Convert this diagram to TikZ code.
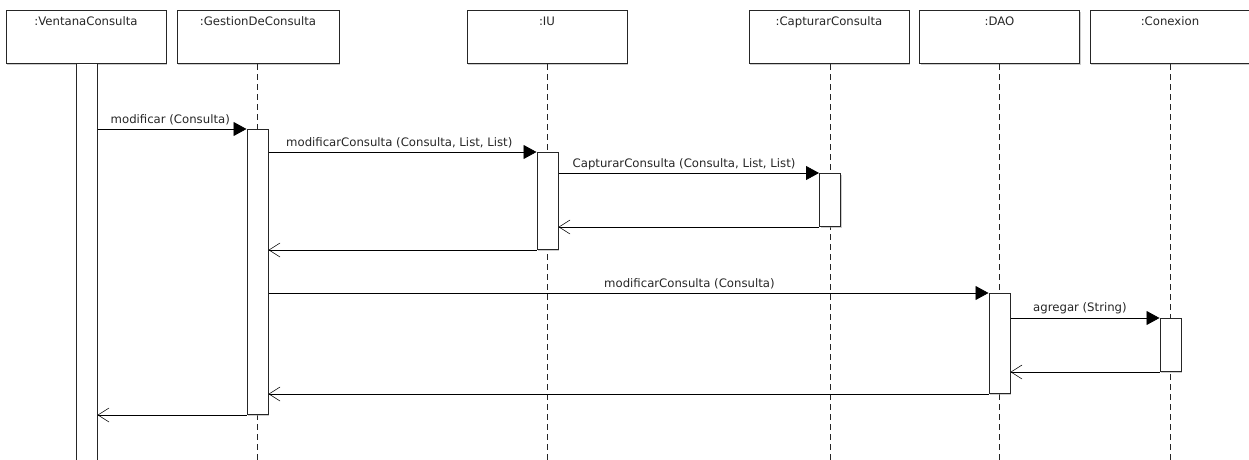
\documentclass[tikz,border=0pt]{standalone}
\usepackage{fontspec}
\setmainfont{DejaVu Sans}
\usetikzlibrary{arrows.meta,shadows}
\begin{document}
\begin{tikzpicture}[x=1pt,y=-1pt,
  shade/.style={drop shadow={shadow xshift=1.3pt,shadow yshift=-1.3pt,fill=black!40,opacity=0.5}},
  objbox/.style={draw=black!85, line width=1pt, fill=white, minimum width=160pt,
    minimum height=53pt, inner sep=0pt, anchor=north, shade},
  objname/.style={anchor=north, inner sep=0pt, text=black!85,
    font=\fontsize{11.7}{14}\selectfont},
  lifeline/.style={draw=black!85, line width=1pt, dash pattern=on 6pt off 4pt},
  actbar/.style={draw=black!85, line width=1pt, fill=white, minimum width=21pt,
    inner sep=0pt, anchor=north, shade},
  call/.style={draw=black, line width=0.8pt, -{Triangle[length=13pt,width=14pt]}},
  reply/.style={draw=black, line width=0.8pt,
    -{Straight Barb[length=11pt,width=14pt,line width=0.55pt]}},
  msg/.style={anchor=base west, inner sep=0pt, text=black!85,
    font=\fontsize{11.7}{14}\selectfont}
]
\useasboundingbox (0,0) rectangle (1249,460);
\begin{scope}
\clip (0,0) rectangle (1249,460);

% object boxes
\node[objbox] (ventana)  at (86,10)   {};
\node[objbox, minimum width=162pt] (gestion) at (258,10) {};
\node[objbox] (iu)       at (547,10)  {};
\node[objbox] (capturar) at (829,10)  {};
\node[objbox] (dao)      at (999.5,10) {};
\node[objbox] (conexion) at (1170,10) {};

\node[objname] (tv) at ([yshift=-6.5pt]ventana.north)  {:VentanaConsulta};
\node[objname] (tg) at ([yshift=-6.5pt]gestion.north)  {:GestionDeConsulta};
\node[objname] (ti) at ([yshift=-6.5pt]iu.north)       {:IU};
\node[objname] (tc) at ([yshift=-6.5pt]capturar.north) {:CapturarConsulta};
\node[objname] (td) at ([yshift=-6.5pt]dao.north)      {:DAO};
\node[objname] (tk) at ([yshift=-6.5pt]conexion.north) {:Conexion};

% lifelines
\coordinate (gl) at (257.5,470);
\coordinate (il) at (547.5,470);
\coordinate (cl) at (830,470);
\coordinate (dl) at (999.5,470);
\coordinate (kl) at (1170.5,470);
\draw[lifeline] (gl |- gestion.south) -- (gl);
\draw[lifeline] (il |- iu.south) -- (il);
\draw[lifeline] (cl |- capturar.south) -- (cl);
\draw[lifeline] (dl |- dao.south) -- (dl);
\draw[lifeline] (kl |- conexion.south) -- (kl);

% activation bars
\node[actbar, minimum height=420pt] (vb) at (86.5,63)  {};
\node[actbar, minimum height=285pt] (gb) at (257.5,129) {};
\node[actbar, minimum height=97pt]  (ib) at (547.5,152) {};
\node[actbar, minimum height=53pt]  (cb) at (830,173)   {};
\node[actbar, minimum height=100pt] (db) at (999.5,293) {};
\node[actbar, minimum height=53pt]  (kb) at (1170.5,318) {};

% messages
\draw[call]  (vb.east |- gb.north) -- (gb.north west);
\draw[call]  (gb.east |- ib.north) -- (ib.north west);
\draw[call]  (ib.east |- cb.north) -- (cb.north west);
\draw[reply] (cb.south west) -- (ib.east |- cb.south);
\draw[reply] (ib.south west) -- (gb.east |- ib.south);
\draw[call]  (gb.east |- db.north) -- (db.north west);
\draw[call]  (db.east |- kb.north) -- (kb.north west);
\draw[reply] (kb.south west) -- (db.east |- kb.south);
\draw[reply] (db.south west) -- (gb.east |- db.south);
\draw[reply] (gb.south west) -- (vb.east |- gb.south);

% message labels
\node[msg] (m1) at (110.5,123.5) {modificar (Consulta)};
\node[msg] (m2) at (286,146.5)   {modificarConsulta (Consulta, List, List)};
\node[msg] (m3) at (572.5,167)   {CapturarConsulta (Consulta, List, List)};
\node[msg] (m4) at (604,287.5)   {modificarConsulta (Consulta)};
\node[msg] (m5) at (1033,311.5)  {agregar (String)};
\end{scope}
\end{tikzpicture}
\end{document}
